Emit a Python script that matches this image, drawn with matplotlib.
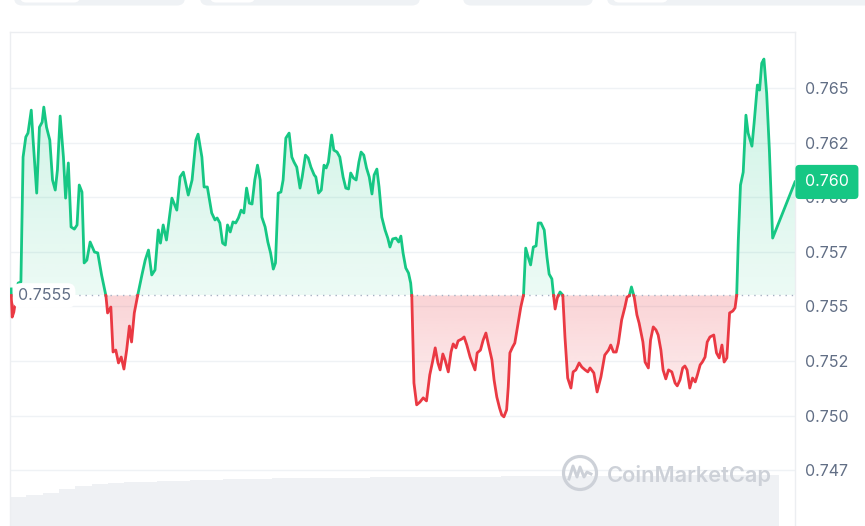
import numpy as np
import matplotlib
matplotlib.use("Agg")
import matplotlib.pyplot as plt
from matplotlib.path import Path
from matplotlib.patches import FancyBboxPatch, Circle
from matplotlib.lines import Line2D
from matplotlib.transforms import IdentityTransform, blended_transform_factory

plt.rcParams['font.family'] = ['Inter', 'DejaVu Sans']

# price over the last 24h (minutes since start)
minutes = [
    2, 4, 7, 15, 20, 24, 29, 33, 39, 42, 49, 54, 59, 62, 67, 73, 78, 83, 87, 92,
    98, 102, 107, 112, 118, 123, 127, 132, 136, 141, 147, 155, 161, 168, 176, 179, 185, 189, 194, 199,
    204, 209, 214, 219, 223, 228, 234, 242, 248, 254, 260, 266, 272, 276, 281, 287, 297, 306, 312, 318,
    327, 334, 341, 345, 352, 356, 362, 370, 376, 380, 385, 390, 395, 399, 404, 409, 414, 419, 424, 429,
    434, 439, 444, 449, 454, 459, 462, 468, 473, 478, 483, 487, 492, 497, 501, 506, 512, 517, 521, 526,
    532, 536, 542, 547, 552, 558, 561, 566, 571, 576, 580, 584, 590, 594, 600, 605, 611, 616, 621, 625,
    630, 635, 640, 644, 649, 654, 659, 664, 668, 673, 677, 682, 688, 693, 697, 702, 708, 713, 717, 721,
    726, 731, 735, 737, 741, 746, 752, 758, 764, 770, 775, 780, 785, 789, 794, 798, 804, 809, 813, 818,
    822, 829, 833, 838, 844, 848, 853, 857, 863, 868, 873, 877, 884, 888, 893, 898, 902, 906, 911, 914,
    917, 922, 926, 931, 937, 942, 946, 951, 955, 960, 965, 969, 974, 980, 985, 989, 994, 997, 1000, 1004,
    1009, 1014, 1018, 1023, 1029, 1033, 1038, 1044, 1049, 1055, 1060, 1064, 1071, 1077, 1084, 1091, 1098, 1102, 1107, 1112,
    1116, 1122, 1128, 1132, 1136, 1140, 1145, 1150, 1154, 1161, 1165, 1171, 1175, 1180, 1185, 1189, 1194, 1198, 1203, 1208,
    1214, 1220, 1224, 1229, 1234, 1238, 1242, 1247, 1252, 1257, 1261, 1266, 1270, 1275, 1279, 1284, 1291, 1296, 1301, 1306,
    1310, 1315, 1320, 1326, 1330, 1333, 1336, 1340, 1345, 1350, 1354, 1361, 1365, 1371, 1375, 1379, 1383, 1388, 1393, 1399,
    1440]
price = [
    0.75580, 0.75451, 0.75474, 0.75607, 0.75612, 0.76184, 0.76276, 0.76294, 0.76399, 0.76276,
    0.76019, 0.76321, 0.76344, 0.76413, 0.76321, 0.76262, 0.76079, 0.76033, 0.76125, 0.76372,
    0.76184, 0.75996, 0.76157, 0.75864, 0.75854, 0.75873, 0.76056, 0.76024, 0.75699, 0.75712,
    0.75795, 0.75749, 0.75745, 0.75644, 0.75548, 0.75470, 0.75497, 0.75291, 0.75300, 0.75241,
    0.75268, 0.75213, 0.75300, 0.75410, 0.75337, 0.75470, 0.75548, 0.75644, 0.75712, 0.75758,
    0.75644, 0.75667, 0.75850, 0.75790, 0.75873, 0.75804, 0.75996, 0.75941, 0.76093, 0.76115,
    0.76010, 0.76079, 0.76262, 0.76289, 0.76184, 0.76047, 0.76047, 0.75928, 0.75896, 0.75905,
    0.75882, 0.75790, 0.75781, 0.75873, 0.75841, 0.75887, 0.75882, 0.75905, 0.75941, 0.75928,
    0.76042, 0.75973, 0.75969, 0.76079, 0.76147, 0.76079, 0.75909, 0.75864, 0.75795, 0.75745,
    0.75671, 0.75699, 0.76019, 0.76024, 0.76079, 0.76271, 0.76294, 0.76184, 0.76161, 0.76138,
    0.76042, 0.76093, 0.76193, 0.76180, 0.76138, 0.76102, 0.76093, 0.76019, 0.76033, 0.76147,
    0.76134, 0.76161, 0.76285, 0.76216, 0.76207, 0.76184, 0.76093, 0.76042, 0.76038, 0.76111,
    0.76088, 0.76079, 0.76161, 0.76207, 0.76193, 0.76134, 0.76093, 0.76015, 0.76102, 0.76129,
    0.76047, 0.75909, 0.75850, 0.75813, 0.75772, 0.75809, 0.75813, 0.75795, 0.75822, 0.75745,
    0.75676, 0.75653, 0.75607, 0.75552, 0.75149, 0.75049, 0.75062, 0.75081, 0.75067, 0.75186,
    0.75245, 0.75310, 0.75241, 0.75209, 0.75282, 0.75255, 0.75200, 0.75291, 0.75328, 0.75310,
    0.75342, 0.75351, 0.75360, 0.75323, 0.75268, 0.75241, 0.75209, 0.75287, 0.75300, 0.75346,
    0.75378, 0.75332, 0.75255, 0.75163, 0.75085, 0.75035, 0.75003, 0.74994, 0.75026, 0.75131,
    0.75287, 0.75314, 0.75332, 0.75406, 0.75497, 0.75552, 0.75767, 0.75722, 0.75690, 0.75772,
    0.75777, 0.75882, 0.75882, 0.75850, 0.75726, 0.75648, 0.75626, 0.75552, 0.75488, 0.75539,
    0.75566, 0.75552, 0.75360, 0.75172, 0.75126, 0.75200, 0.75209, 0.75241, 0.75222, 0.75209,
    0.75200, 0.75218, 0.75195, 0.75108, 0.75177, 0.75277, 0.75300, 0.75323, 0.75291, 0.75291,
    0.75332, 0.75438, 0.75497, 0.75543, 0.75548, 0.75589, 0.75543, 0.75461, 0.75424, 0.75337,
    0.75245, 0.75218, 0.75346, 0.75406, 0.75392, 0.75369, 0.75300, 0.75209, 0.75168, 0.75209,
    0.75200, 0.75149, 0.75136, 0.75163, 0.75218, 0.75227, 0.75209, 0.75126, 0.75172, 0.75154,
    0.75186, 0.75232, 0.75245, 0.75268, 0.75337, 0.75360, 0.75369, 0.75287, 0.75264, 0.75323,
    0.75245, 0.75264, 0.75470, 0.75479, 0.75493, 0.75548, 0.75804, 0.76056, 0.76115, 0.76376,
    0.76294, 0.76234, 0.76340, 0.76514, 0.76491, 0.76614, 0.76633, 0.76477, 0.76216, 0.75813,
    0.76070]
base_price = 0.7555
base_label = "0.7555"
last_label = "0.760"

tick_values = [0.7475, 0.7500, 0.7525, 0.7550, 0.7575, 0.7600, 0.7625, 0.7650]
tick_labels = ["0.747", "0.750", "0.752", "0.755", "0.757", "0.760", "0.762", "0.765"]

# volume bars (30 min buckets)
vol_minutes = list(range(0, 1410, 30))
volume = [29, 31, 33, 37, 40, 42, 43, 44, 44.5, 45, 45.5, 46, 46.5, 47, 47, 47.5, 48, 48, 48, 48.5,
          48.5, 48.5, 49, 49, 49, 49, 49.5, 49.5, 49.5, 49.5, 50, 50, 50, 50, 50, 50, 50.5, 50.5,
          50.5, 50.5, 50.5, 51, 51, 51, 51, 51, 51]

GREEN = "#16c784"
RED = "#ea3943"
GRAY = "#616e85"
W, H = 865, 526

fig = plt.figure(figsize=(W / 100, H / 100), dpi=100, facecolor="white")

# volume axes first so it sits behind the price
vax = fig.add_axes([10 / W, 0, 785 / W, 60 / H])
vax.bar(vol_minutes, volume, width=30, align="edge", color="#eff1f4", edgecolor="none")
vax.set_xlim(0, 1440)
vax.set_ylim(0, 60)
vax.axis("off")

ax = fig.add_axes([10 / W, 0, 785 / W, 494 / H])
ax.set_facecolor("none")

t = np.array(minutes, float)
p = np.array(price, float)

# add the crossing points so the two colours meet on the baseline
tt, pp = [t[0]], [p[0]]
for i in range(1, len(t)):
    a, b = p[i - 1] - base_price, p[i] - base_price
    if a * b < 0:
        tt.append(t[i - 1] + (t[i] - t[i - 1]) * a / (a - b))
        pp.append(base_price)
    tt.append(t[i])
    pp.append(p[i])
tt = np.array(tt)
pp = np.array(pp)

up = np.where(pp >= base_price, pp, np.nan)
down = np.where(pp <= base_price, pp, np.nan)

# gradient fills clipped to the areas between line and baseline
def gradient(color, a_lo, a_hi):
    rgb = matplotlib.colors.to_rgb(color)
    g = np.zeros((256, 1, 4))
    g[:, 0, :3] = rgb
    g[:, 0, 3] = np.linspace(a_lo, a_hi, 256)
    return g

fg = ax.fill_between(tt, pp, base_price, where=pp >= base_price, facecolor="none", edgecolor="none")
fr = ax.fill_between(tt, pp, base_price, where=pp <= base_price, facecolor="none", edgecolor="none")
im_g = ax.imshow(gradient(GREEN, 0.08, 0.22), extent=[0, 1440, base_price, p.max()],
                 origin="lower", aspect="auto", zorder=1, interpolation="bilinear")
im_g.set_clip_path(Path.make_compound_path(*fg.get_paths()), ax.transData)
im_r = ax.imshow(gradient(RED, 0.07, 0.22), extent=[0, 1440, p.min(), base_price],
                 origin="lower", aspect="auto", zorder=1, interpolation="bilinear")
im_r.set_clip_path(Path.make_compound_path(*fr.get_paths()), ax.transData)

ax.axhline(base_price, color="#a6b0c3", lw=1, ls=(0, (1, 3.5)), zorder=2)
ax.plot(tt, up, color=GREEN, lw=2, zorder=3, solid_joinstyle="round")
ax.plot(tt, down, color=RED, lw=2, zorder=3, solid_joinstyle="round")

ax.set_xlim(0, 1440)
ax.set_ylim(0.74494, 0.76757)
ax.set_xticks([])
ax.yaxis.tick_right()
ax.set_yticks(tick_values)
ax.set_yticklabels(tick_labels)
ax.tick_params(axis="y", length=0, pad=7, labelsize=11.5, labelcolor=GRAY)
ax.grid(axis="y", color="#eff2f5", lw=1)
ax.set_axisbelow(True)
for side in ["top", "left", "right"]:
    ax.spines[side].set_color("#eceef1")
    ax.spines[side].set_linewidth(1)
ax.spines["bottom"].set_visible(False)

# baseline label on the left
ax.text(14, base_price, base_label, ha="left", va="center", fontsize=11.5, color=GRAY, zorder=6,
        bbox=dict(boxstyle="round,pad=0.3,rounding_size=0.5", fc="white", ec="none"))

# current price tag on the right
tr = blended_transform_factory(ax.transAxes, ax.transData)
ax.text(1.0127, p[-1], last_label, transform=tr, ha="left", va="center", fontsize=11.5,
        color="white", zorder=6, clip_on=False,
        bbox=dict(boxstyle="round,pad=0.6,rounding_size=0.25", fc=GREEN, ec="none"))

# watermark
fig.add_artist(Circle((580, H - 473), 16.5, fill=False, ec="#cdd1d8", lw=2.3, transform=IdentityTransform()))
fig.add_artist(Line2D([569, 573, 577, 580, 584, 587, 591],
                      [H - 479, H - 466, H - 477, H - 467, H - 477, H - 472, H - 474],
                      color="#cdd1d8", lw=2.1, transform=IdentityTransform()))
fig.text(607 / W, 1 - 482 / H, "CoinMarketCap", fontsize=15.7, fontweight="semibold",
         color="#cdd1d8", ha="left", va="baseline")

# cropped tab buttons at the very top
for x0, x1 in [(14, 185), (200, 420), (463, 593), (607, 890)]:
    fig.add_artist(FancyBboxPatch((x0, H - 5.5), x1 - x0, 20, boxstyle="round,pad=0,rounding_size=8",
                                  fc="#eff2f5", ec="none", transform=IdentityTransform()))
for x0, x1 in [(20, 80), (210, 255), (613, 668)]:
    fig.add_artist(FancyBboxPatch((x0, H - 2.5), x1 - x0, 20, boxstyle="round,pad=0,rounding_size=6",
                                  fc="white", ec="none", transform=IdentityTransform()))

fig.savefig("out.png", dpi=100, facecolor="white")
